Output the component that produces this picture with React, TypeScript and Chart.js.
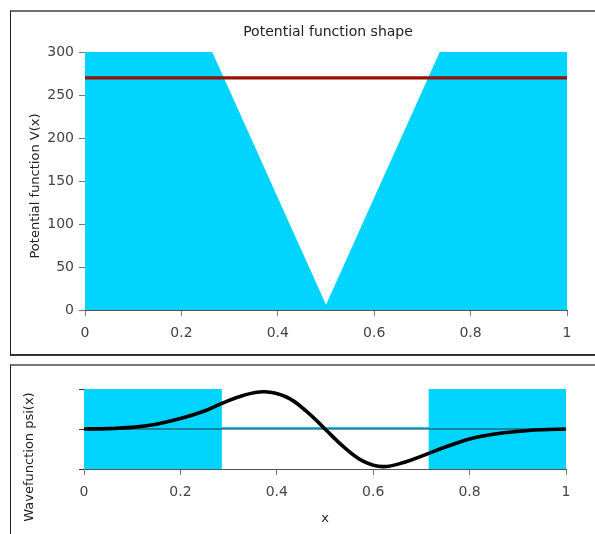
import React, { useEffect, useRef } from 'react';
import { Chart, registerables } from 'chart.js';

Chart.register(...registerables);

// ---- tick values / labels ----
const xTicks = [0, 0.2, 0.4, 0.6, 0.8, 1];
const xTickLabels = ['0', '0.2', '0.4', '0.6', '0.8', '1'];
const vTicks = [0, 50, 100, 150, 200, 250, 300];
const vTickLabels = ['0', '50', '100', '150', '200', '250', '300'];
const psiTicks = [-1, 0, 1];

// ---- potential panel data ----
const potentialX = [0, 0.264, 0.5, 0.736, 1];
const potentialV = [300, 300, 6, 300, 300];
const energyX = [0, 1];
const energyE = [270, 270];

// ---- wavefunction panel data ----
const psiX = [0, 0.05, 0.1, 0.15, 0.2, 0.25, 0.286, 0.33, 0.375, 0.42, 0.46, 0.5, 0.54, 0.58, 0.62, 0.665, 0.715, 0.75, 0.8, 0.85, 0.9, 0.95, 1];
const psiY = [0, 0.01, 0.04, 0.12, 0.26, 0.45, 0.64, 0.84, 0.93, 0.8, 0.46, 0.0, -0.46, -0.81, -0.94, -0.83, -0.61, -0.45, -0.25, -0.13, -0.06, -0.02, 0];
const forbiddenX = [0, 0.286, 0.286, 0.715, 0.715, 1];
const forbiddenTop = [1, 1, 0.05, 0.05, 1, 1];
const forbiddenBottom = [-1, -1, 0, 0, -1, -1];
const zeroX = [0, 1];
const zeroY = [0, 0];

const FONT = "'DejaVu Sans', sans-serif";
const CYAN = '#00D4FF';

const freeText = {
  id: 'freeText',
  afterDraw(chart: any, _args: any, opts: any) {
    const ctx = chart.ctx;
    (opts.items || []).forEach((it: any) => {
      ctx.save();
      ctx.translate(it.x, it.y);
      if (it.rotate) ctx.rotate(it.rotate);
      ctx.font = `${it.size}px ${FONT}`;
      ctx.fillStyle = it.color;
      ctx.textAlign = 'center';
      ctx.textBaseline = 'middle';
      ctx.fillText(it.text, 0, 0);
      ctx.restore();
    });
  },
};

const pts = (xs: number[], ys: number[]) => xs.map((x, i) => ({ x, y: ys[i] }));

function xScale(height: number, title?: string) {
  return {
    type: 'linear',
    min: 0,
    max: 1,
    afterBuildTicks: (s: any) => {
      s.ticks = xTicks.map((v) => ({ value: v }));
    },
    afterFit: (s: any) => {
      s.height = height;
    },
    ticks: {
      callback: (_v: any, i: number) => xTickLabels[i],
      font: { family: FONT, size: 14 },
      color: '#444',
      padding: 9,
      maxRotation: 0,
      autoSkip: false,
    },
    grid: { display: true, drawOnChartArea: false, drawTicks: true, tickLength: 6, color: '#777' },
    border: { display: true, color: '#555' },
    title: title
      ? { display: true, text: title, font: { family: FONT, size: 13 }, color: '#222', padding: { top: 0, bottom: 8 } }
      : { display: false },
  };
}

function PotentialChart() {
  const ref = useRef<HTMLCanvasElement>(null);
  useEffect(() => {
    const chart = new Chart(ref.current as HTMLCanvasElement, {
      type: 'line',
      data: {
        datasets: [
          {
            data: pts(energyX, energyE),
            borderColor: '#961000',
            borderWidth: 3.2,
            pointRadius: 0,
            fill: false,
          },
          {
            data: pts(potentialX, potentialV),
            borderWidth: 0,
            borderColor: CYAN,
            backgroundColor: CYAN,
            pointRadius: 0,
            fill: 'origin',
          },
        ],
      },
      plugins: [freeText],
      options: {
        responsive: false,
        animation: false,
        layout: { padding: { top: 40, right: 28, left: 0, bottom: 0 } },
        plugins: {
          legend: { display: false },
          tooltip: { enabled: false },
          freeText: {
            items: [
              { text: 'Potential function shape', x: 317, y: 20, size: 14, color: '#222' },
              { text: 'Potential function V(x)', x: 25, y: 174, size: 13, color: '#222', rotate: -Math.PI / 2 },
            ],
          },
        } as any,
        scales: {
          x: xScale(43) as any,
          y: {
            type: 'linear',
            min: 0,
            max: 300,
            afterBuildTicks: (s: any) => {
              s.ticks = vTicks.map((v) => ({ value: v }));
            },
            afterFit: (s: any) => {
              s.width = 74;
            },
            ticks: {
              callback: (_v: any, i: number) => vTickLabels[i],
              font: { family: FONT, size: 14 },
              color: '#444',
              padding: 5,
            },
            grid: { display: true, drawOnChartArea: false, drawTicks: true, tickLength: 6, color: '#777' },
            border: { display: true, color: '#555' },
          } as any,
        },
      },
    } as any);
    return () => chart.destroy();
  }, []);
  return <canvas ref={ref} width={584} height={341} style={{ position: 'absolute', left: 11, top: 12, width: 584, height: 341, display: 'block' }} />;
}

function WaveChart() {
  const ref = useRef<HTMLCanvasElement>(null);
  useEffect(() => {
    const chart = new Chart(ref.current as HTMLCanvasElement, {
      type: 'line',
      data: {
        datasets: [
          {
            data: pts(psiX, psiY),
            borderColor: '#000',
            borderWidth: 3.6,
            pointRadius: 0,
            tension: 0.4,
            fill: false,
          },
          {
            data: pts(zeroX, zeroY),
            borderColor: '#203a40',
            borderWidth: 1,
            pointRadius: 0,
            fill: false,
          },
          {
            data: pts(forbiddenX, forbiddenTop),
            borderWidth: 0,
            borderColor: CYAN,
            backgroundColor: CYAN,
            pointRadius: 0,
            fill: '+1',
          },
          {
            data: pts(forbiddenX, forbiddenBottom),
            borderWidth: 0,
            borderColor: CYAN,
            backgroundColor: CYAN,
            pointRadius: 0,
            fill: false,
          },
        ],
      },
      plugins: [freeText],
      options: {
        responsive: false,
        animation: false,
        layout: { padding: { top: 22, right: 29, left: 0, bottom: 0 } },
        plugins: {
          legend: { display: false },
          tooltip: { enabled: false },
          freeText: {
            items: [{ text: 'Wavefunction psi(x)', x: 19, y: 90, size: 13, color: '#222', rotate: -Math.PI / 2 }],
          },
        } as any,
        scales: {
          x: xScale(65, 'x') as any,
          y: {
            type: 'linear',
            min: -1,
            max: 1,
            afterBuildTicks: (s: any) => {
              s.ticks = psiTicks.map((v) => ({ value: v }));
            },
            afterFit: (s: any) => {
              s.width = 73;
            },
            ticks: { callback: () => '', padding: 0 },
            grid: { display: true, drawOnChartArea: false, drawTicks: true, tickLength: 5, color: '#333' },
            border: { display: true, color: '#999' },
          } as any,
        },
      },
    } as any);
    return () => chart.destroy();
  }, []);
  return <canvas ref={ref} width={584} height={167} style={{ position: 'absolute', left: 11, top: 367, width: 584, height: 167, display: 'block' }} />;
}

export default function App() {
  return (
    <div style={{ position: 'fixed', left: 0, top: 0, width: 595, height: 534, overflow: 'hidden', background: '#fff' }}>
      <div
        style={{
          position: 'absolute',
          left: 10,
          top: 10,
          width: 700,
          height: 342,
          borderTop: '2px solid #6e6e6e',
          borderLeft: '1px solid #222',
          borderBottom: '2px solid #333',
        }}
      />
      <div
        style={{
          position: 'absolute',
          left: 10,
          top: 364,
          width: 700,
          height: 200,
          borderTop: '2px solid #777',
          borderLeft: '1px solid #222',
        }}
      />
      <PotentialChart />
      <WaveChart />
    </div>
  );
}
